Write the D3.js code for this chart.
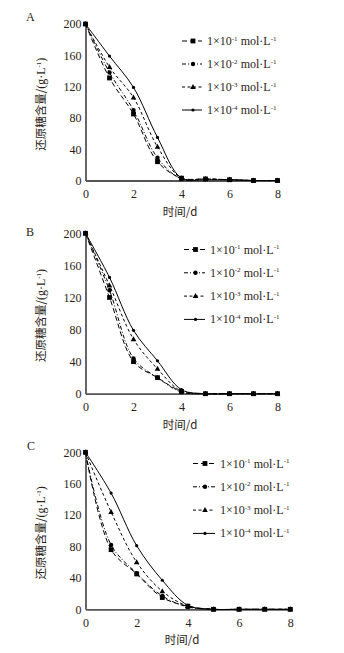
<!DOCTYPE html>
<html>
<head>
<meta charset="utf-8">
<script src="https://cdn.jsdelivr.net/npm/d3@7"></script>
<style>
  body { margin: 0; background: #fff; }
  svg { display: block; }
</style>
</head>
<body>
<svg id="chart" width="344" height="653"></svg>
<script>
const days = [0, 1, 2, 3, 4, 5, 6, 7, 8];
const yTicks = [0, 40, 80, 120, 160, 200];
const xTicks = [0, 2, 4, 6, 8];
const exps = ["-1", "-2", "-3", "-4"];

// panel A
const aSeries1 = [200, 131, 85, 24, 3, 2, 1, 0, 0];
const aSeries2 = [200, 138, 90, 29, 2, 2, 1, 0, 0];
const aSeries3 = [200, 145, 106, 43, 3, 2, 1, 0, 0];
const aSeries4 = [200, 159, 119, 55, 3, 1, 1, 0, 0];
// panel B
const bSeries1 = [200, 120, 40, 20, 3, 0, 0, 0, 0];
const bSeries2 = [200, 129, 44, 20, 2, 0, 0, 0, 0];
const bSeries3 = [200, 135, 68, 31, 3, 0, 0, 0, 0];
const bSeries4 = [200, 145, 79, 41, 5, 0, 0, 0, 0];
// panel C
const cSeries1 = [200, 76, 45, 15, 4, 0, 0, 0, 0];
const cSeries2 = [200, 82, 46, 17, 3, 0, 0, 0, 0];
const cSeries3 = [200, 124, 60, 23, 4, 0, 0, 0, 0];
const cSeries4 = [200, 148, 81, 37, 5, 0, 0, 0, 0];

const textColor = "#2b1d16";
const serif = "'Liberation Serif', 'DejaVu Serif', serif";
const cjk = "'Noto Sans CJK SC', sans-serif";

const styles = [
  { dash: "5,3", marker: "square" },
  { dash: "4,2,1,2", marker: "circle" },
  { dash: "3,2.5", marker: "triangle" },
  { dash: null, marker: "dot" }
];

const panels = [
  { label: "A", series: [aSeries1, aSeries2, aSeries3, aSeries4],
    x0: 85.5, x1: 277.5, yTop: 24, yBot: 180.5,
    labelPos: [26, 21], legendX: 182, legendW: 20, legendY: 41, legendStep: 23, xTitleX: 180 },
  { label: "B", series: [bSeries1, bSeries2, bSeries3, bSeries4],
    x0: 85.5, x1: 277.5, yTop: 233.3, yBot: 393.7,
    labelPos: [26, 236], legendX: 184, legendW: 21, legendY: 249.5, legendStep: 23.3, xTitleX: 180 },
  { label: "C", series: [cSeries1, cSeries2, cSeries3, cSeries4],
    x0: 85.5, x1: 290.3, yTop: 452.3, yBot: 609.3,
    labelPos: [27, 450], legendX: 193, legendW: 22, legendY: 463.5, legendStep: 23.3, xTitleX: 182 }
];

const svg = d3.select("#chart");

function drawMarker(g, type, cx, cy) {
  if (type === "square") {
    g.append("rect").attr("x", cx - 2.4).attr("y", cy - 2.4)
      .attr("width", 4.8).attr("height", 4.8).attr("fill", "#000");
  } else if (type === "circle") {
    g.append("circle").attr("cx", cx).attr("cy", cy).attr("r", 2.2).attr("fill", "#000");
  } else if (type === "triangle") {
    g.append("path")
      .attr("d", `M${cx},${cy - 3}L${cx + 2.8},${cy + 2}L${cx - 2.8},${cy + 2}Z`)
      .attr("fill", "#000");
  } else {
    g.append("circle").attr("cx", cx).attr("cy", cy).attr("r", 1.6).attr("fill", "#000");
  }
}

panels.forEach((p) => {
  const x = d3.scaleLinear().domain([0, 8]).range([p.x0, p.x1]);
  const y = d3.scaleLinear().domain([0, 200]).range([p.yBot, p.yTop]);
  const g = svg.append("g");

  // panel letter
  g.append("text")
    .attr("x", p.labelPos[0]).attr("y", p.labelPos[1])
    .style("font-family", serif).style("font-size", "12px")
    .attr("fill", textColor).text(p.label);

  // y axis, no tick marks
  const yAxis = g.append("g")
    .attr("transform", `translate(${p.x0},0)`)
    .call(d3.axisLeft(y).tickValues(yTicks).tickSize(0).tickPadding(4));
  yAxis.select(".domain").attr("stroke", "#000").attr("stroke-width", 1.2);
  yAxis.selectAll("text")
    .style("font-family", serif).style("font-size", "12px").attr("fill", textColor);

  // x axis
  const xAxis = g.append("g")
    .attr("transform", `translate(0,${p.yBot})`)
    .call(d3.axisBottom(x).tickValues(xTicks).tickSize(0).tickPadding(9));
  xAxis.select(".domain").attr("stroke", "#555").attr("stroke-width", 1.8);
  xAxis.selectAll("text")
    .style("font-family", serif).style("font-size", "12px").attr("fill", textColor);

  // axis titles
  g.append("text")
    .attr("x", p.xTitleX).attr("y", p.yBot + 35)
    .attr("text-anchor", "middle")
    .style("font-family", cjk).style("font-size", "11.5px")
    .attr("fill", textColor).text("时间/d");

  const yt = g.append("text")
    .attr("transform", `translate(${p.x0 - 41},${(p.yTop + p.yBot) / 2 + 2}) rotate(-90)`)
    .attr("text-anchor", "middle")
    .style("font-size", "12px").attr("fill", textColor);
  yt.append("tspan").style("font-family", cjk).style("font-size", "11.5px").text("还原糖含量/");
  yt.append("tspan").style("font-family", serif).text("(g·L");
  yt.append("tspan").style("font-family", serif).style("font-size", "7px")
    .attr("dy", -4).text("-1");
  yt.append("tspan").style("font-family", serif).attr("dy", 4).text(")");

  // smoothed series lines
  const line = d3.line()
    .x((d, i) => x(days[i]))
    .y((d) => y(d))
    .curve(d3.curveCatmullRom.alpha(0.5));

  p.series.forEach((vals, si) => {
    const st = styles[si];
    g.append("path")
      .datum(vals)
      .attr("d", line)
      .attr("fill", "none")
      .attr("stroke", "#000")
      .attr("stroke-width", 1)
      .attr("stroke-dasharray", st.dash);
    const mg = g.append("g");
    vals.forEach((v, i) => drawMarker(mg, st.marker, x(days[i]), y(v)));
  });

  // legend
  styles.forEach((st, si) => {
    const ly = p.legendY + si * p.legendStep;
    g.append("line")
      .attr("x1", p.legendX).attr("x2", p.legendX + p.legendW)
      .attr("y1", ly).attr("y2", ly)
      .attr("stroke", "#000").attr("stroke-width", 1)
      .attr("stroke-dasharray", st.dash);
    drawMarker(g, st.marker, p.legendX + p.legendW / 2 + 1, ly);
    const t = g.append("text")
      .attr("x", p.legendX + p.legendW + 5).attr("y", ly + 4)
      .style("font-family", serif).style("font-size", "12px")
      .attr("fill", textColor);
    t.append("tspan").text("1×10");
    t.append("tspan").style("font-size", "7px").attr("dy", -4.5).text(exps[si]);
    t.append("tspan").attr("dy", 4.5).text(" mol·L");
    t.append("tspan").style("font-size", "7px").attr("dy", -4.5).text("-1");
  });
});
</script>
</body>
</html>
